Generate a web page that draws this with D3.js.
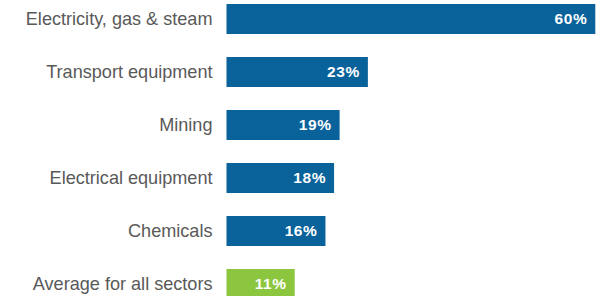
<!DOCTYPE html>
<html><head><meta charset="utf-8">
<script src="https://cdn.jsdelivr.net/npm/d3@7"></script>
<style>body{margin:0;background:#fff}svg{display:block}</style>
</head><body><svg id="c" width="603" height="296"></svg>
<script>
const categories = ["Electricity, gas & steam","Transport equipment","Mining","Electrical equipment","Chemicals","Average for all sectors"];
const values = [60, 23, 18.4, 17.5, 16.1, 11.1];
const valueLabels = ["60%","23%","19%","18%","16%","11%"];
const colors = ["#09629a","#09629a","#09629a","#09629a","#09629a","#8cc63f"];

const svg = d3.select("#c");
const x = d3.scaleLinear().domain([0, 60]).range([226.5, 595.3]);
const y = d3.scaleBand().domain(categories).range([-7.5, 310.5]).paddingInner(23/53).paddingOuter(23/106);

const g = svg.selectAll("g.row").data(categories).enter().append("g").attr("class","row");
g.append("rect")
  .attr("x", x(0)).attr("y", d => y(d))
  .attr("width", (d,i) => x(values[i]) - x(0))
  .attr("height", y.bandwidth())
  .attr("fill", (d,i) => colors[i]);
g.append("text")
  .attr("x", 212.5).attr("y", d => y(d) + y.bandwidth()/2 + 6.2)
  .attr("text-anchor","end")
  .attr("font-family","Liberation Sans, Arial, sans-serif")
  .attr("font-size", 18.1).attr("fill","#595959")
  .text(d => d);
g.append("text")
  .attr("x", (d,i) => x(values[i]) - 8).attr("y", d => y(d) + y.bandwidth()/2 + 5.2)
  .attr("text-anchor","end")
  .attr("font-family","Liberation Sans, Arial, sans-serif")
  .attr("font-weight","bold")
  .attr("font-size", 15.5).attr("letter-spacing", 0.6).attr("fill","#fff")
  .text((d,i) => valueLabels[i]);
</script></body></html>
